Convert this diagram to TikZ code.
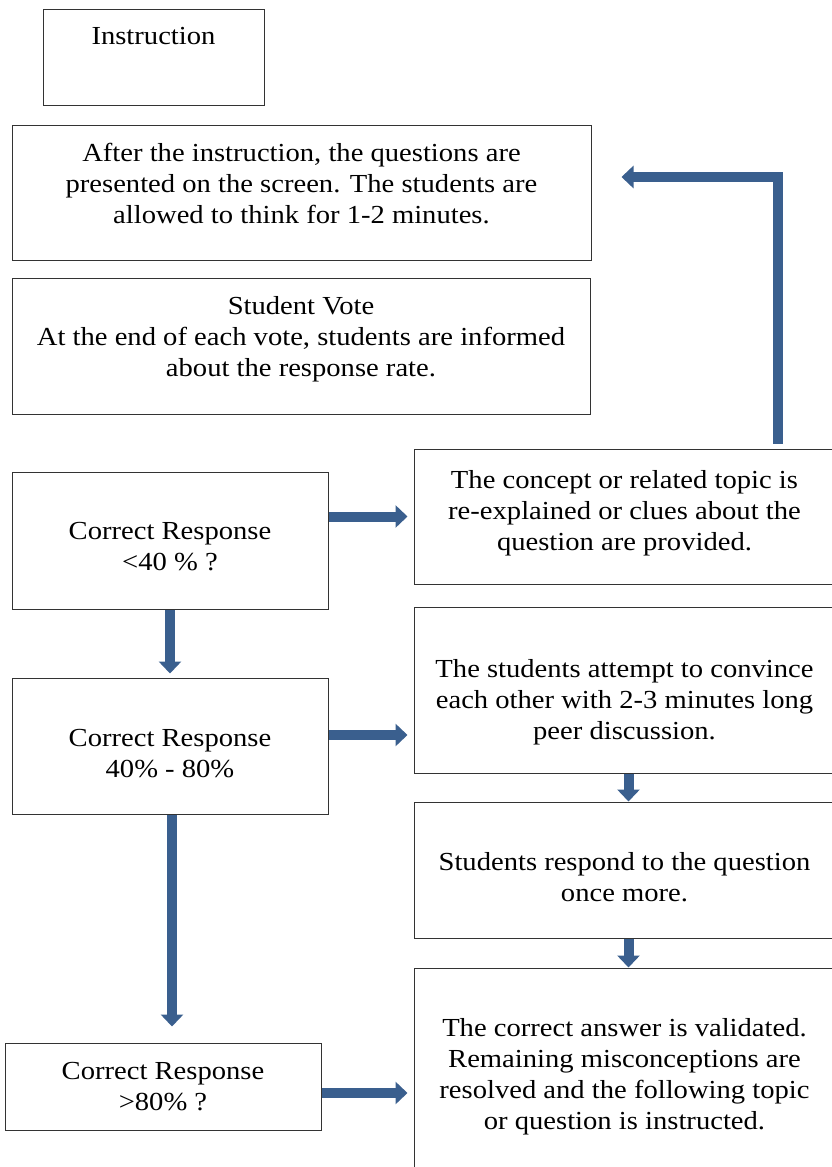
\documentclass[tikz,border=0pt]{standalone}
\usepackage{fontspec}
\setmainfont{Liberation Serif}[FakeStretch=1.1]
\usetikzlibrary{arrows.meta,positioning,calc}
\definecolor{flowblue}{HTML}{3A5F8E}

\tikzset{
  stepbox/.style={draw=black!80, line width=1pt, align=center, inner sep=0pt,
    font=\fontsize{26}{31}\selectfont},
  leftbox/.style={stepbox, minimum width=316pt},
  rightbox/.style={stepbox, minimum width=421pt},
  flow/.style={draw=flowblue, line width=10pt, -{Triangle[width=22pt,length=12pt]}}
}

\begin{document}
\begin{tikzpicture}[x=1pt, y=-1pt]
  \useasboundingbox (0,0) rectangle (831,1167);

  % Top column
  \node[stepbox, minimum width=221pt, minimum height=96pt] (instr) at (153.5,57)
    {Instruction\\[12pt]\mbox{}};
  \node[stepbox, minimum width=579pt, minimum height=135pt] (present) at (301.5,192.5)
    {After the instruction, the questions are\\ presented on the screen. The students are\\ allowed to think for 1-2 minutes.\\[-12pt]\mbox{}};
  \node[stepbox, minimum width=578pt, minimum height=136pt] (vote) at (301,346)
    {Student Vote\\ At the end of each vote, students are informed\\ about the response rate.\\[-12pt]\mbox{}};

  % Left column
  \node[leftbox, minimum height=137pt] (low) at (170,540.5)
    {Correct Response\\ {<}40 \% ?\\[-43pt]\mbox{}};
  \node[leftbox, minimum height=136pt] (mid) at (170,746)
    {Correct Response\\ 40\% - 80\%\\[-45pt]\mbox{}};
  \node[leftbox, minimum height=87pt] (high) at (163,1086.5)
    {Correct Response\\ {>}80\% ?};

  % Right column
  \node[rightbox, minimum height=135pt] (reexp) at (624.5,516.5)
    {The concept or related topic is\\ re-explained or clues about the\\ question are provided.\\[-18pt]\mbox{}};
  \node[rightbox, minimum height=166pt] (discuss) at (624.5,690)
    {The students attempt to convince\\ each other with 2-3 minutes long\\ peer discussion.\\[-49pt]\mbox{}};
  \node[rightbox, minimum height=136pt] (respond) at (624.5,870)
    {Students respond to the question\\ once more.\\[-45pt]\mbox{}};
  \node[rightbox, minimum height=212pt] (final) at (624.5,1074)
    {The correct answer is validated.\\ Remaining misconceptions are\\ resolved and the following topic\\ or question is instructed.\\[-31pt]\mbox{}};

  % Connectors
  \draw[flow, shorten >=6pt] (low.east |- reexp.west) -- (reexp.west);
  \draw[flow, shorten >=4pt] (low.south) -- (mid.north);
  \draw[flow, shorten >=6pt] ($(mid.east)+(0,-11)$) coordinate (midout) -- (midout -| discuss.west);
  \draw[flow, shorten >=16pt] ($(mid.south)+(2,0)$) coordinate (midbot) -- (midbot |- high.north);
  \draw[flow, shorten >=6pt] ($(high.east)+(0,6.5)$) coordinate (highout) -- (highout -| final.west);
  \draw[flow] ($(discuss.south)+(4,0)$) coordinate (discbot) -- (discbot |- respond.north);
  \draw[flow] ($(respond.south)+(4,0)$) coordinate (respbot) -- (respbot |- final.north);

  % Loop back
  \coordinate (loopx) at (778,177);
  \draw[flow, shorten <=5pt] (reexp.north -| loopx) |- ($(present.east)+(30,-15.5)$);
\end{tikzpicture}
\end{document}
